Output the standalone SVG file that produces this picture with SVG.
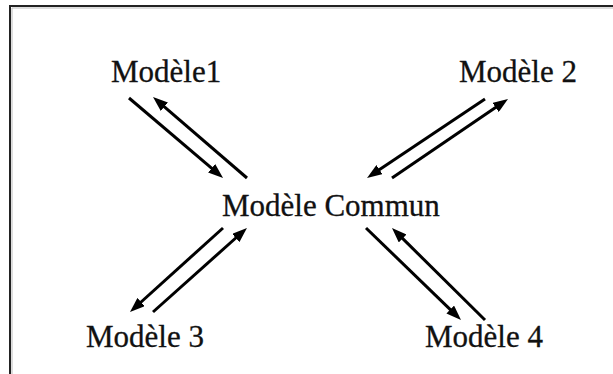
<svg xmlns="http://www.w3.org/2000/svg" width="613" height="374" viewBox="0 0 613 374">
  <style>
    .label { font-family: "Liberation Serif", "Times New Roman", serif; font-size: 31px; fill: #111; stroke: #111; stroke-width: 0.3; }
    .link { stroke: #000; stroke-width: 3; fill: none; marker-end: url(#head); }
    .frame { stroke: #222; stroke-width: 2; fill: none; }
  </style>
  <defs>
    <marker id="head" markerUnits="userSpaceOnUse" viewBox="0 0 15 11" markerWidth="15" markerHeight="11" refX="3" refY="5.5" orient="auto">
      <path d="M0,0 L15,5.5 L0,11 z" fill="#000"/>
    </marker>
  </defs>

  <rect width="613" height="374" fill="#fff"/>

  <!-- frame: top and left edges -->
  <path class="frame" d="M10,374 V6 H613"/>
  <path d="M12,374 V8 H613" stroke="#bbb" stroke-width="1" fill="none"/>

  <g id="connectors">
    <path class="link" d="M129,98 L213.9,170.2"/>
    <path class="link" d="M247,178 L162.1,104.8"/>
    <path class="link" d="M485,99 L377,171.3"/>
    <path class="link" d="M392,178 L498.1,105.8"/>
    <path class="link" d="M223,228 L138.9,304"/>
    <path class="link" d="M153,312 L238,236"/>
    <path class="link" d="M366,228 L452.4,311.6"/>
    <path class="link" d="M485,320 L400.5,236.4"/>
  </g>

  <g id="modele1"><text class="label" x="111" y="82">Modèle1</text></g>
  <g id="modele2"><text class="label" x="459" y="82">Modèle 2</text></g>
  <g id="modele-commun"><text class="label" x="222" y="216">Modèle Commun</text></g>
  <g id="modele3"><text class="label" x="86" y="347">Modèle 3</text></g>
  <g id="modele4"><text class="label" x="425" y="347">Modèle 4</text></g>
</svg>
